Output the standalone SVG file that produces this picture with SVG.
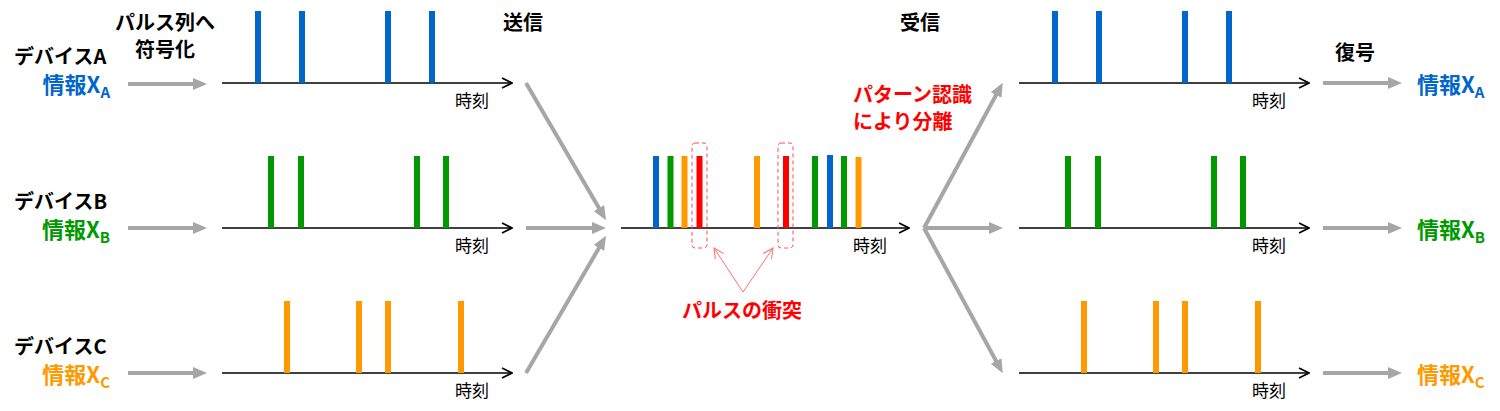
<svg xmlns="http://www.w3.org/2000/svg" width="1500" height="411" viewBox="0 0 1500 411">
<style>
.lbl{font-family:"Noto Sans CJK JP","Noto Sans",sans-serif;font-weight:bold;font-size:20px;fill:#000}
.red{fill:#FF0000}
.blue{fill:#0066CC}
.green{fill:#009900}
.orange{fill:#FF9900}
.info{font-family:"Noto Sans CJK JP","Noto Sans",sans-serif;font-weight:bold;font-size:22px}
.sub{font-size:15px}
.t{font-family:"Noto Sans CJK JP","Noto Sans",sans-serif;font-size:17px;fill:#000}
.axis{stroke:#000;stroke-width:1.6;fill:none}
.pb{stroke:#0066CC;stroke-width:6}
.pg{stroke:#009900;stroke-width:6}
.po{stroke:#FF9900;stroke-width:6}
.pr{stroke:#FF0000;stroke-width:6}
.ga{stroke:#A6A6A6;stroke-width:4;fill:none}
.dash{stroke:#FF4D4D;stroke-width:1;stroke-dasharray:4 3;fill:none}
.ra{stroke:#FF7070;stroke-width:1;fill:none}
</style>
<defs>
<marker id="ah" viewBox="0 0 14 12" refX="4" refY="6" markerWidth="14" markerHeight="12" markerUnits="userSpaceOnUse" orient="auto">
<path d="M0,0 L14,6 L0,12 z" fill="#A6A6A6"/>
</marker>
<marker id="ax" viewBox="0 0 12 12" refX="11" refY="6" markerWidth="12" markerHeight="12" markerUnits="userSpaceOnUse" orient="auto">
<path d="M1,1 L11,6 L1,11" fill="none" stroke="#000" stroke-width="1.6"/>
</marker>
<marker id="rh" viewBox="0 0 12 12" refX="11" refY="6" markerWidth="12" markerHeight="12" markerUnits="userSpaceOnUse" orient="auto">
<path d="M1,1 L11,6 L1,11" fill="none" stroke="#FF7070" stroke-width="1"/>
</marker>
</defs>

<g id="headers">
<text class="lbl" x="165" y="30" text-anchor="middle">パルス列へ<tspan x="165" y="57">符号化</tspan></text>
<text class="lbl" x="503" y="30">送信</text>
<text class="lbl" x="900" y="30">受信</text>
<text class="lbl" x="1335" y="60">復号</text>
</g>

<g id="deviceA">
<text class="lbl" x="14" y="64">デバイスA</text>
<text class="info blue" x="110" y="93" text-anchor="end">情報X<tspan class="sub" dy="5">A</tspan></text>
</g>
<g id="deviceB">
<text class="lbl" x="14" y="209">デバイスB</text>
<text class="info green" x="110" y="238" text-anchor="end">情報X<tspan class="sub" dy="5">B</tspan></text>
</g>
<g id="deviceC">
<text class="lbl" x="14" y="354">デバイスC</text>
<text class="info orange" x="110" y="383" text-anchor="end">情報X<tspan class="sub" dy="5">C</tspan></text>
</g>

<g id="txA">
<line class="axis" x1="222" y1="83" x2="512" y2="83" marker-end="url(#ax)"/>
<line class="pb" x1="258" y1="11" x2="258" y2="83"/>
<line class="pb" x1="302" y1="11" x2="302" y2="83"/>
<line class="pb" x1="388" y1="11" x2="388" y2="83"/>
<line class="pb" x1="432" y1="11" x2="432" y2="83"/>
<text class="t" x="455" y="107">時刻</text>
</g>
<g id="txB">
<line class="axis" x1="222" y1="228" x2="512" y2="228" marker-end="url(#ax)"/>
<line class="pg" x1="271" y1="156" x2="271" y2="228"/>
<line class="pg" x1="301" y1="156" x2="301" y2="228"/>
<line class="pg" x1="417" y1="156" x2="417" y2="228"/>
<line class="pg" x1="446" y1="156" x2="446" y2="228"/>
<text class="t" x="455" y="252">時刻</text>
</g>
<g id="txC">
<line class="axis" x1="222" y1="373" x2="512" y2="373" marker-end="url(#ax)"/>
<line class="po" x1="287" y1="301" x2="287" y2="373"/>
<line class="po" x1="359" y1="301" x2="359" y2="373"/>
<line class="po" x1="388" y1="301" x2="388" y2="373"/>
<line class="po" x1="461" y1="301" x2="461" y2="373"/>
<text class="t" x="455" y="397">時刻</text>
</g>

<g id="channel">
<line class="axis" x1="621" y1="228" x2="909" y2="228" marker-end="url(#ax)"/>
<line class="pb" x1="656" y1="156" x2="656" y2="228"/>
<line class="pg" x1="670.5" y1="156" x2="670.5" y2="228"/>
<line class="po" x1="684.5" y1="156" x2="684.5" y2="228"/>
<line class="pr" x1="699.5" y1="156" x2="699.5" y2="228"/>
<line class="po" x1="757" y1="156" x2="757" y2="228"/>
<line class="pr" x1="786" y1="156" x2="786" y2="228"/>
<line class="pg" x1="815" y1="156" x2="815" y2="228"/>
<line class="pb" x1="830" y1="155" x2="830" y2="228"/>
<line class="pg" x1="844" y1="156" x2="844" y2="228"/>
<line class="po" x1="858.5" y1="157" x2="858.5" y2="228"/>
<text class="t" x="853" y="252">時刻</text>
<rect class="dash" x="692" y="143" width="15" height="105" rx="3"/>
<rect class="dash" x="778" y="143" width="15" height="105" rx="3"/>
</g>

<g id="collision">
<text class="lbl red" x="742" y="318" text-anchor="middle">パルスの衝突</text>
</g>
<g id="separation">
<text class="lbl red" x="853" y="102">パターン認識<tspan x="853" y="129">により分離</tspan></text>
</g>

<g id="rxA">
<line class="axis" x1="1019" y1="83" x2="1309" y2="83" marker-end="url(#ax)"/>
<line class="pb" x1="1055" y1="11" x2="1055" y2="83"/>
<line class="pb" x1="1099" y1="11" x2="1099" y2="83"/>
<line class="pb" x1="1185" y1="11" x2="1185" y2="83"/>
<line class="pb" x1="1229" y1="11" x2="1229" y2="83"/>
<text class="t" x="1252" y="107">時刻</text>
</g>
<g id="rxB">
<line class="axis" x1="1019" y1="228" x2="1309" y2="228" marker-end="url(#ax)"/>
<line class="pg" x1="1068" y1="156" x2="1068" y2="228"/>
<line class="pg" x1="1098" y1="156" x2="1098" y2="228"/>
<line class="pg" x1="1214" y1="156" x2="1214" y2="228"/>
<line class="pg" x1="1243" y1="156" x2="1243" y2="228"/>
<text class="t" x="1252" y="252">時刻</text>
</g>
<g id="rxC">
<line class="axis" x1="1019" y1="373" x2="1309" y2="373" marker-end="url(#ax)"/>
<line class="po" x1="1084" y1="301" x2="1084" y2="373"/>
<line class="po" x1="1156" y1="301" x2="1156" y2="373"/>
<line class="po" x1="1185" y1="301" x2="1185" y2="373"/>
<line class="po" x1="1258" y1="301" x2="1258" y2="373"/>
<text class="t" x="1252" y="397">時刻</text>
</g>

<g id="outA"><text class="info blue" x="1417" y="93">情報X<tspan class="sub" dy="5">A</tspan></text></g>
<g id="outB"><text class="info green" x="1417" y="238">情報X<tspan class="sub" dy="5">B</tspan></text></g>
<g id="outC"><text class="info orange" x="1417" y="383">情報X<tspan class="sub" dy="5">C</tspan></text></g>

<g id="connectors">
<line class="ga" x1="128" y1="84" x2="197" y2="84" marker-end="url(#ah)"/>
<line class="ga" x1="128" y1="228" x2="197" y2="228" marker-end="url(#ah)"/>
<line class="ga" x1="128" y1="373" x2="197" y2="373" marker-end="url(#ah)"/>
<line class="ga" x1="526" y1="83" x2="601" y2="211.5" marker-end="url(#ah)"/>
<line class="ga" x1="526" y1="228" x2="596" y2="228" marker-end="url(#ah)"/>
<line class="ga" x1="526" y1="373" x2="601" y2="244.5" marker-end="url(#ah)"/>
<line class="ga" x1="924" y1="228" x2="998" y2="91.5" marker-end="url(#ah)"/>
<line class="ga" x1="924" y1="228" x2="993" y2="228" marker-end="url(#ah)"/>
<line class="ga" x1="924" y1="228" x2="998" y2="364.5" marker-end="url(#ah)"/>
<line class="ga" x1="1323" y1="83" x2="1392" y2="83" marker-end="url(#ah)"/>
<line class="ga" x1="1323" y1="228" x2="1392" y2="228" marker-end="url(#ah)"/>
<line class="ga" x1="1323" y1="373" x2="1392" y2="373" marker-end="url(#ah)"/>
<line class="ra" x1="743" y1="292" x2="714" y2="248" marker-end="url(#rh)"/>
<line class="ra" x1="743" y1="292" x2="773" y2="248" marker-end="url(#rh)"/>
</g>
</svg>
